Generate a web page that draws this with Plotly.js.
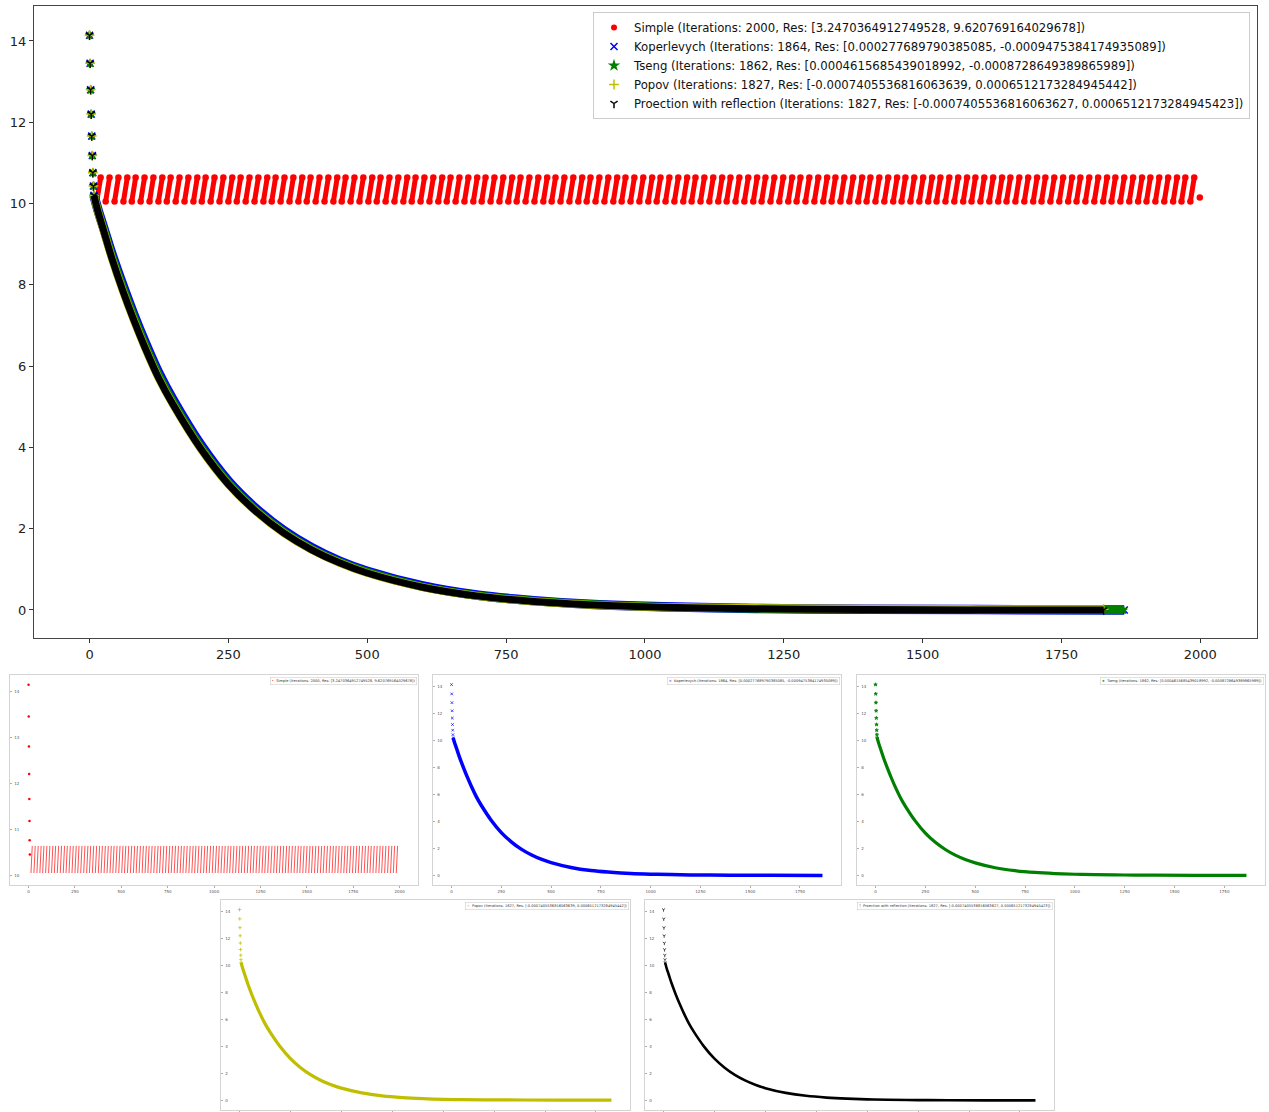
<!DOCTYPE html>
<html><head><meta charset="utf-8">
<script src="https://cdn.plot.ly/plotly-3.0.1.min.js"></script>
<style>html,body{margin:0;padding:0;background:#fff}#chart{width:1269px;height:1112px}</style>
</head><body><div id="chart"></div>
<script>
// ---------- data ----------
const startIter = [0, 1, 2, 3, 4, 5, 6, 7, 8];
const startVal  = [14.14, 13.45, 12.80, 12.20, 11.66, 11.18, 10.76, 10.43, 10.20];

const simpleStartIter = [0, 1, 2, 3, 4, 5, 6, 7];
const simpleStartVal  = [14.14, 13.45, 12.80, 12.20, 11.66, 11.18, 10.76, 10.45];
// Simple oscillation band: each stroke starts low and ends high
const simpleStrokeStart = [13, 29, 45, 61, 76, 92, 108, 124, 139, 155, 171, 187, 202, 218, 234, 250, 265, 281, 297, 313, 328, 344, 360, 376, 391, 407, 423, 439, 454, 470, 486, 502, 517, 533, 549, 565, 580, 596, 612, 628, 643, 659, 675, 691, 706, 722, 738, 754, 769, 785, 801, 817, 832, 848, 864, 880, 895, 911, 927, 943, 958, 974, 990, 1006, 1021, 1037, 1053, 1069, 1084, 1100, 1116, 1132, 1147, 1163, 1179, 1195, 1210, 1226, 1242, 1258, 1273, 1289, 1305, 1321, 1336, 1352, 1368, 1384, 1399, 1415, 1431, 1447, 1462, 1478, 1494, 1510, 1525, 1541, 1557, 1573, 1588, 1604, 1620, 1636, 1651, 1667, 1683, 1699, 1714, 1730, 1746, 1762, 1777, 1793, 1809, 1825, 1840, 1856, 1872, 1888, 1903, 1919, 1935, 1951, 1966, 1982];
const simpleStrokeEnd   = [20, 36, 52, 68, 83, 99, 115, 131, 146, 162, 178, 194, 209, 225, 241, 257, 272, 288, 304, 320, 335, 351, 367, 383, 398, 414, 430, 446, 461, 477, 493, 509, 524, 540, 556, 572, 587, 603, 619, 635, 650, 666, 682, 698, 713, 729, 745, 761, 776, 792, 808, 824, 839, 855, 871, 887, 902, 918, 934, 950, 965, 981, 997, 1013, 1028, 1044, 1060, 1076, 1091, 1107, 1123, 1139, 1154, 1170, 1186, 1202, 1217, 1233, 1249, 1265, 1280, 1296, 1312, 1328, 1343, 1359, 1375, 1391, 1406, 1422, 1438, 1454, 1469, 1485, 1501, 1517, 1532, 1548, 1564, 1580, 1595, 1611, 1627, 1643, 1658, 1674, 1690, 1706, 1721, 1737, 1753, 1769, 1784, 1800, 1816, 1832, 1847, 1863, 1879, 1895, 1910, 1926, 1942, 1958, 1973, 1989];
const simpleBandLevels = [10.05, 10.64];
const simpleLastIter = [1999];
const simpleLastVal  = [10.15];

const kopIter    = [8, 15, 25, 40, 60, 80, 100, 125, 150, 200, 250, 300, 350, 400, 450, 500, 600, 700, 800, 900, 1000, 1100, 1250, 1400, 1600, 1863];
const kopVal     = [10.20, 9.85, 9.42, 8.77, 7.99, 7.26, 6.59, 5.82, 5.18, 4.07, 3.17, 2.49, 1.95, 1.53, 1.20, 0.95, 0.59, 0.36, 0.23, 0.14, 0.09, 0.06, 0.03, 0.015, 0.01, 0.00];
const tsengIter  = [8, 15, 25, 40, 60, 80, 100, 125, 150, 200, 250, 300, 350, 400, 450, 500, 600, 700, 800, 900, 1000, 1100, 1250, 1400, 1600, 1861];
const tsengVal   = [10.20, 9.83, 9.39, 8.72, 7.93, 7.20, 6.52, 5.76, 5.12, 4.02, 3.13, 2.45, 1.92, 1.50, 1.18, 0.93, 0.57, 0.35, 0.22, 0.14, 0.085, 0.055, 0.03, 0.015, 0.01, 0.00];
const popovIter  = [8, 15, 25, 40, 60, 80, 100, 125, 150, 200, 250, 300, 350, 400, 450, 500, 600, 700, 800, 900, 1000, 1100, 1250, 1400, 1600, 1826];
const popovVal   = [10.20, 9.81, 9.35, 8.66, 7.85, 7.12, 6.45, 5.69, 5.06, 3.97, 3.09, 2.42, 1.89, 1.48, 1.16, 0.91, 0.56, 0.34, 0.21, 0.13, 0.08, 0.06, 0.04, 0.03, 0.02, 0.02];
const proIter    = [8, 15, 25, 40, 60, 80, 100, 125, 150, 200, 250, 300, 350, 400, 450, 500, 600, 700, 800, 900, 1000, 1100, 1250, 1400, 1600, 1826];
const proVal     = [10.20, 9.81, 9.35, 8.66, 7.85, 7.12, 6.45, 5.69, 5.06, 3.97, 3.09, 2.42, 1.89, 1.48, 1.16, 0.91, 0.56, 0.34, 0.21, 0.13, 0.08, 0.05, 0.025, 0.01, 0.00, 0.00];

const xTicksMain = [0, 250, 500, 750, 1000, 1250, 1500, 1750, 2000];
const yTicksMain = [0, 2, 4, 6, 8, 10, 12, 14];
const yTicksSimple = [10, 11, 12, 13, 14];

const names = [
  'Simple (Iterations: 2000, Res: [3.2470364912749528, 9.620769164029678])',
  'Koperlevych (Iterations: 1864, Res: [0.000277689790385085, -0.0009475384174935089])',
  'Tseng (Iterations: 1862, Res: [0.0004615685439018992, -0.0008728649389865989])',
  'Popov (Iterations: 1827, Res: [-0.0007405536816063639, 0.0006512173284945442])',
  'Proection with reflection (Iterations: 1827, Res: [-0.0007405536816063627, 0.0006512173284945423])'
];

// ---------- build ----------
const W = 1269, H = 1112;
const px = v => v / W, py = v => 1 - v / H;
const C = {red:'#ff0000', blue:'#0000ff', green:'#008000', yellow:'#bfbf00', black:'#000000'};

// stroke table for the Simple band
const bandX = [], bandY = [];
simpleStrokeStart.forEach((s, i) => {
  bandX.push(s, simpleStrokeEnd[i], null);
  bandY.push(simpleBandLevels[0], simpleBandLevels[1], null);
});

const traces = [];
traces.push({x: simpleStartIter, y: simpleStartVal, type:'scatter', mode:'markers', name: names[0],
  marker:{color:C.red, size:6, symbol:'circle'}, xaxis:'x', yaxis:'y'});
traces.push({x: bandX, y: bandY, type:'scatter', mode:'lines+markers', showlegend:false, connectgaps:false,
  line:{color:C.red, width:5}, marker:{color:C.red, size:6.5}, xaxis:'x', yaxis:'y'});
traces.push({x: simpleLastIter, y: simpleLastVal, type:'scatter', mode:'markers', showlegend:false,
  marker:{color:C.red, size:6.5}, xaxis:'x', yaxis:'y'});
const S = [
  [kopIter, kopVal, C.blue, 'x-thin-open', 9.5, 7, names[1]],
  [tsengIter, tsengVal, C.green, 'star', 8.5, 6, names[2]],
  [popovIter, popovVal, C.yellow, 'cross-thin-open', 8, 7, names[3]],
  [proIter, proVal, C.black, 'y-down-open', 7, 6, names[4]]
];
S.forEach(([ix, iv, col, sym, lw, ms, nm]) => {
  traces.push({x: ix, y: iv, type:'scatter', mode:'lines', showlegend:false,
    line:{color:col, width:lw, shape:'spline', smoothing:1}, xaxis:'x', yaxis:'y'});
  traces.push({x: startIter.concat([ix[ix.length-1]]), y: startVal.concat([iv[iv.length-1]]), type:'scatter', mode:'markers', name:nm,
    marker:{color:col, size:ms, symbol:sym, line:{color:col, width:1.5}}, xaxis:'x', yaxis:'y'});
});

// small panels
function addSmall(k, ix, iv, col, sym, lw) {
  const ax = 'x' + k, ay = 'y' + k;
  traces.push({x: ix, y: iv, type:'scatter', mode:'lines', showlegend:false,
    line:{color:col, width:lw, shape:'spline', smoothing:1}, xaxis:ax, yaxis:ay});
  traces.push({x: startIter, y: startVal, type:'scatter', mode:'markers', showlegend:false,
    marker:{color:col, size:2.6, symbol:sym, line:{color:col, width:0.7}}, xaxis:ax, yaxis:ay});
}
traces.push({x: simpleStartIter, y: simpleStartVal, type:'scatter', mode:'markers', showlegend:false,
  marker:{color:C.red, size:2.5}, xaxis:'x2', yaxis:'y2'});
traces.push({x: bandX, y: bandY, type:'scatter', mode:'lines', showlegend:false, connectgaps:false,
  line:{color:C.red, width:0.8}, opacity:0.85, xaxis:'x2', yaxis:'y2'});
addSmall(3, kopIter, kopVal, C.blue, 'x-thin-open', 3.5);
addSmall(4, tsengIter, tsengVal, C.green, 'star', 3.2);
addSmall(5, popovIter, popovVal, C.yellow, 'cross-thin-open', 3.2);
addSmall(6, proIter, proVal, C.black, 'y-down-open', 2.6);

const font = {family:'DejaVu Sans, sans-serif', size:13, color:'#222'};
const layout = {
  width: W, height: H, margin:{l:0, r:0, t:0, b:0},
  paper_bgcolor:'#fff', plot_bgcolor:'#fff', font: font,
  showlegend: true,
  legend: {x: px(1250), xanchor:'right', y: py(12), yanchor:'top', bgcolor:'rgba(255,255,255,0.85)',
    bordercolor:'#cccccc', borderwidth:1, font:{family:'DejaVu Sans, sans-serif', size:11.7, color:'#111'},
    tracegroupgap:0, itemwidth:30},
  xaxis: {domain:[px(34), px(1257)], range:[-100, 2102], tickvals:xTicksMain, ticks:'outside', ticklen:4,
    tickcolor:'#333', showline:true, mirror:true, linecolor:'#444', linewidth:1, showgrid:false, zeroline:false,
    tickfont:font, anchor:'y'},
  yaxis: {domain:[py(638), py(6)], range:[-0.69, 14.86], tickvals:yTicksMain, ticks:'outside', ticklen:4,
    tickcolor:'#333', showline:true, mirror:true, linecolor:'#444', linewidth:1, showgrid:false, zeroline:false,
    tickfont:font, anchor:'x'},
  annotations: [], shapes: []
};

const boxes = [
  // k, x0, x1, y0(top), y1(bottom), xrange, yrange, yticks, xticks, legend index, color, glyph, show x labels
  [2, 10, 418, 675, 885, [-100, 2099], [9.79, 14.35], yTicksSimple, xTicksMain, 0, C.red, '•', true],
  [3, 433, 841, 675, 885, [-93, 1956], [-0.71, 14.85], yTicksMain, xTicksMain.slice(0, 8), 1, C.blue, '×', true],
  [4, 857, 1265, 675, 885, [-93, 1954], [-0.71, 14.85], yTicksMain, xTicksMain.slice(0, 8), 2, C.green, '★', true],
  [5, 221, 630, 900, 1110, [-91, 1917], [-0.71, 14.85], yTicksMain, xTicksMain.slice(0, 8), 3, C.yellow, '+', false],
  [6, 645, 1054, 900, 1110, [-91, 1917], [-0.71, 14.85], yTicksMain, xTicksMain.slice(0, 8), 4, C.black, 'ᛘ', false]
];
const tiny = {family:'DejaVu Sans, sans-serif', size:4, color:'#555'};
boxes.forEach(([k, x0, x1, yt, yb, xr, yr, yt2, xt, li, col, glyph, showX]) => {
  layout['xaxis' + k] = {domain:[px(x0), px(x1)], range:xr, tickvals:xt, ticks:'outside', ticklen:2, tickwidth:0.6,
    tickcolor:'#777', showline:true, mirror:true, linecolor:'#d4d4d4', linewidth:1, showgrid:false, zeroline:false,
    tickfont:tiny, showticklabels:showX, anchor:'y' + k};
  layout['yaxis' + k] = {domain:[py(yb), py(yt)], range:yr, tickvals:yt2, ticks:'inside', ticklen:2, tickwidth:0.6,
    tickcolor:'#777', showline:true, mirror:true, linecolor:'#d4d4d4', linewidth:1, showgrid:false, zeroline:false,
    tickfont:tiny, ticklabelposition:'inside', anchor:'x' + k};
  layout.annotations.push({xref:'paper', yref:'paper', x: px(x1 - 1), xanchor:'right', y: py(yt + 2), yanchor:'top',
    showarrow:false, align:'left', bgcolor:'#fff', bordercolor:'#cfcfcf', borderwidth:0.6, borderpad:1.2,
    text:'<span style="color:' + col + '">' + glyph + '</span>  ' + names[li],
    font:{family:'DejaVu Sans, sans-serif', size:3.6, color:'#333'}});
});

Plotly.newPlot('chart', traces, layout, {staticPlot:true, displayModeBar:false});
</script>
</body></html>
